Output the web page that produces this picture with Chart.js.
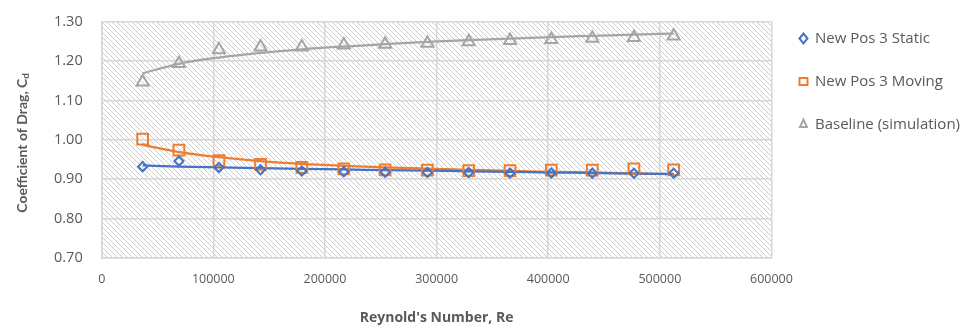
<!DOCTYPE html>
<html>
<head>
<meta charset="utf-8">
<script src="https://cdn.jsdelivr.net/npm/chart.js@4.4.1/dist/chart.umd.min.js"></script>
<style>
  html, body { margin: 0; padding: 0; background: #ffffff; }
  #wrap { width: 973px; height: 326px; position: relative; }
</style>
</head>
<body>
<div id="wrap"><canvas id="c" width="973" height="326"></canvas></div>
<script>
// ---- Data ----
const reynolds = [36700, 69200, 105000, 142300, 179300, 216900, 253900, 291800, 328800, 365800, 402800, 439500, 476800, 512400];
const staticCd   = [0.932, 0.946, 0.930, 0.924, 0.921, 0.919, 0.918, 0.917, 0.917, 0.916, 0.916, 0.915, 0.915, 0.915];
const movingCd   = [1.002, 0.974, 0.947, 0.938, 0.930, 0.926, 0.924, 0.923, 0.922, 0.922, 0.923, 0.923, 0.926, 0.924];
const baselineCd = [1.147, 1.194, 1.229, 1.236, 1.236, 1.241, 1.243, 1.245, 1.249, 1.252, 1.255, 1.258, 1.260, 1.264];
// trendline curves at the same Re positions
const staticTrend   = [0.935, 0.932, 0.930, 0.928, 0.926, 0.925, 0.923, 0.922, 0.920, 0.919, 0.917, 0.916, 0.914, 0.913];
const movingTrend   = [0.987, 0.969, 0.956, 0.946, 0.939, 0.934, 0.930, 0.927, 0.924, 0.921, 0.919, 0.917, 0.915, 0.913];
const baselineTrend = [1.169, 1.193, 1.209, 1.221, 1.230, 1.237, 1.243, 1.249, 1.253, 1.257, 1.261, 1.264, 1.267, 1.270];
const seriesNames = ['New Pos 3 Static', 'New Pos 3 Moving', 'Baseline (simulation)'];
const xTicks = [0, 100000, 200000, 300000, 400000, 500000, 600000];
const yTicks = [0.70, 0.80, 0.90, 1.00, 1.10, 1.20, 1.30];

const pts = (ys) => reynolds.map((x, i) => ({x: x, y: ys[i]}));

const BLUE = '#4472C4', ORANGE = '#ED7D31', GRAY = '#A5A5A5', TEXT = '#595959', GRID = '#d6d6d6';
const FONT = "'Open Sans'";

// hatch pattern for plot area
function makeHatch() {
  const s = 5;
  const c = document.createElement('canvas');
  c.width = s; c.height = s;
  const g = c.getContext('2d');
  g.fillStyle = '#ffffff';
  g.fillRect(0, 0, s, s);
  g.strokeStyle = '#cdcdcd';
  g.lineWidth = 1;
  g.beginPath();
  for (let k = -1; k <= 1; k++) {
    g.moveTo(k * s, 0);
    g.lineTo(k * s + s, s);
  }
  g.stroke();
  return c;
}

const hatchPlugin = {
  id: 'hatch',
  beforeDraw(chart) {
    const {ctx, chartArea: a} = chart;
    ctx.save();
    ctx.fillStyle = '#ffffff';
    ctx.fillRect(0, 0, chart.width, chart.height);
    ctx.fillStyle = ctx.createPattern(makeHatch(), 'repeat');
    ctx.fillRect(a.left, a.top, a.right - a.left, a.bottom - a.top);
    ctx.restore();
  }
};

const yTitlePlugin = {
  id: 'yTitle',
  afterDraw(chart) {
    const {ctx, chartArea: a} = chart;
    const main = 'Coefficient of Drag, C';
    const sub = 'd';
    ctx.save();
    ctx.fillStyle = TEXT;
    ctx.font = 'bold 14px Lato';
    const w1 = ctx.measureText(main).width;
    ctx.font = 'bold 10px Lato';
    const w2 = ctx.measureText(sub).width;
    const total = w1 + w2;
    ctx.translate(22, (a.top + a.bottom) / 2 + 3);
    ctx.rotate(-Math.PI / 2);
    ctx.textBaseline = 'middle';
    ctx.textAlign = 'left';
    ctx.font = 'bold 14px Lato';
    ctx.fillText(main, -total / 2, 0);
    ctx.font = 'bold 10px Lato';
    ctx.fillText(sub, -total / 2 + w1, 4);
    ctx.restore();
  }
};

new Chart(document.getElementById('c'), {
  type: 'line',
  data: {
    datasets: [
      { label: seriesNames[0], data: pts(staticCd), showLine: false,
        pointStyle: 'rectRot', pointRadius: 4.6, pointHoverRadius: 4.6, pointBorderWidth: 2,
        pointBorderColor: BLUE, pointBackgroundColor: 'rgba(255,255,255,0)', borderColor: BLUE, backgroundColor: 'rgba(255,255,255,0)' },
      { label: seriesNames[1], data: pts(movingCd), showLine: false,
        pointStyle: 'rect', pointRadius: 7.6, pointHoverRadius: 7.6, pointBorderWidth: 2,
        pointBorderColor: ORANGE, pointBackgroundColor: 'rgba(255,255,255,0)', borderColor: ORANGE, backgroundColor: 'rgba(255,255,255,0)' },
      { label: seriesNames[2], data: pts(baselineCd), showLine: false,
        pointStyle: 'triangle', pointRadius: 7, pointHoverRadius: 7, pointBorderWidth: 2,
        pointBorderColor: GRAY, pointBackgroundColor: 'rgba(255,255,255,0)', borderColor: GRAY, backgroundColor: 'rgba(255,255,255,0)' },
      { label: 'trend-static', data: pts(staticTrend), borderColor: BLUE, borderWidth: 2.25,
        pointRadius: 0, cubicInterpolationMode: 'monotone', fill: false },
      { label: 'trend-moving', data: pts(movingTrend), borderColor: ORANGE, borderWidth: 2.25,
        pointRadius: 0, cubicInterpolationMode: 'monotone', fill: false },
      { label: 'trend-baseline', data: pts(baselineTrend), borderColor: GRAY, borderWidth: 2.25,
        pointRadius: 0, cubicInterpolationMode: 'monotone', fill: false }
    ]
  },
  options: {
    responsive: false,
    animation: false,
    layout: { padding: { top: 3, right: 3, bottom: 0, left: 0 } },
    plugins: {
      tooltip: { enabled: false },
      legend: {
        position: 'right',
        align: 'start',
        labels: {
          usePointStyle: true,
          boxHeight: 7,
          pointStyleWidth: 8,
          padding: 28,
          color: TEXT,
          font: { family: FONT, size: 15 },
          filter: (item) => item.datasetIndex < 3
        }
      }
    },
    scales: {
      x: {
        type: 'linear',
        min: 0, max: 600000,
        afterBuildTicks: (s) => { s.ticks = xTicks.map(v => ({value: v})); },
        afterFit: (s) => { s.height = 68; },
        grid: { color: GRID, lineWidth: 1.5, drawTicks: false },
        border: { display: true, color: GRID, width: 1.5 },
        ticks: { color: TEXT, font: { family: FONT, size: 12.5 }, padding: 14,
                 callback: (v) => String(v), maxRotation: 0 },
        title: { display: true, text: "Reynold's Number, Re", color: TEXT,
                 font: { family: FONT, size: 14, weight: 'bold' }, padding: { top: 0, bottom: 0 } }
      },
      y: {
        type: 'linear',
        min: 0.7, max: 1.3,
        afterBuildTicks: (s) => { s.ticks = yTicks.map(v => ({value: v})); },
        afterFit: (s) => { s.width = 101.7; s.paddingTop = 21.7; },
        grid: { color: GRID, lineWidth: 1.5, drawTicks: false },
        border: { display: true, color: GRID, width: 1.5 },
        ticks: { color: TEXT, font: { family: FONT, size: 14.5 }, padding: 19,
                 callback: (v) => Number(v).toFixed(2) }
      }
    }
  },
  plugins: [hatchPlugin, yTitlePlugin]
});
</script>
</body>
</html>
